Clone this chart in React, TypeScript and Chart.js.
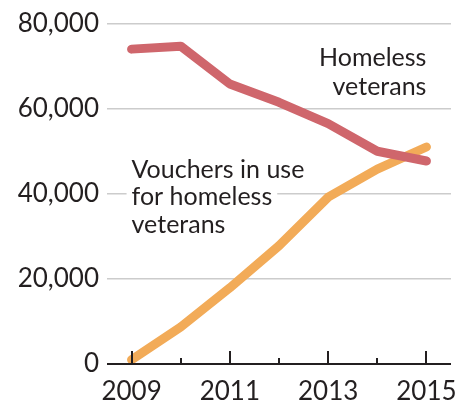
import React, { useEffect, useRef } from "react";
import { Chart, registerables } from "chart.js";

Chart.register(...registerables);

const years = [2009, 2010, 2011, 2012, 2013, 2014, 2015];
const homelessVeterans = [74000, 74700, 65800, 61500, 56500, 50000, 47700];
const vouchersInUse = [1000, 8700, 17900, 27800, 39200, 45800, 51000];
const yTicks = [0, 20000, 40000, 60000, 80000];
const homelessLabel = ["Homeless", "veterans"];
const vouchersLabel = ["Vouchers in use", "for homeless", "veterans"];

const FONT = "Lato, 'Liberation Sans', sans-serif";
const TEXT = "#231f20";
const RED = "#cf666c";
const ORANGE = "#f2ab58";

const overlayPlugin = {
  id: "overlay",
  afterDatasetsDraw(chart: any) {
    const { ctx, chartArea } = chart;
    const xs = chart.scales.x;
    const ys = chart.scales.y;
    ctx.save();
    // baseline axis
    const y0 = ys.getPixelForValue(0);
    ctx.strokeStyle = "#231f20";
    ctx.lineWidth = 2;
    ctx.beginPath();
    ctx.moveTo(chartArea.left, y0);
    ctx.lineTo(chartArea.right, y0);
    ctx.stroke();
    // tick marks
    years.forEach((yr) => {
      const px = Math.round(xs.getPixelForValue(yr));
      const len = yr % 2 === 1 ? 13 : 6;
      ctx.beginPath();
      ctx.moveTo(px, y0);
      ctx.lineTo(px, y0 - len);
      ctx.stroke();
    });
    // labels
    ctx.font = `25px ${FONT}`;
    ctx.textBaseline = "alphabetic";
    const lh = 29;
    // Homeless veterans (right aligned)
    ctx.textAlign = "right";
    const hx = xs.getPixelForValue(2015);
    const hy = ys.getPixelForValue(70000);
    homelessLabel.forEach((t, i) => {
      ctx.fillStyle = TEXT;
      ctx.fillText(t, hx, hy + i * lh);
    });
    // Vouchers label (left aligned with white background)
    ctx.textAlign = "left";
    const vx = xs.getPixelForValue(2009);
    const vy = ys.getPixelForValue(43800);
    vouchersLabel.forEach((t, i) => {
      const w = ctx.measureText(t).width;
      ctx.fillStyle = "#ffffff";
      ctx.fillRect(vx - 5, vy + i * 27.5 - 21, w + 10, 28);
    });
    vouchersLabel.forEach((t, i) => {
      ctx.fillStyle = TEXT;
      ctx.fillText(t, vx, vy + i * 27.5);
    });
    ctx.restore();
  },
};

export default function App() {
  const ref = useRef<HTMLCanvasElement>(null);
  useEffect(() => {
    document.body.style.margin = "0";
    const chart = new Chart(ref.current!, {
      type: "line",
      data: {
        datasets: [
          {
            label: "Homeless veterans",
            data: years.map((x, i) => ({ x, y: homelessVeterans[i] })),
            borderColor: RED,
            borderWidth: 9,
            pointRadius: 0,
            borderJoinStyle: "round",
            borderCapStyle: "round",
            tension: 0,
          },
          {
            label: "Vouchers in use for homeless veterans",
            data: years.map((x, i) => ({ x, y: vouchersInUse[i] })),
            borderColor: ORANGE,
            borderWidth: 9,
            pointRadius: 0,
            borderJoinStyle: "round",
            borderCapStyle: "round",
            tension: 0,
          },
        ],
      },
      options: {
        animation: false,
        responsive: false,
        layout: { padding: { top: 19, right: 16, left: 0, bottom: 0 } },
        plugins: { legend: { display: false }, tooltip: { enabled: false } },
        scales: {
          x: {
            type: "linear",
            min: 2008.5,
            max: 2015.5,
            afterBuildTicks: (s: any) => {
              s.ticks = years.map((v) => ({ value: v }));
            },
            afterFit: (s: any) => {
              s.height = 36;
            },
            grid: { display: false },
            border: { display: false },
            ticks: {
              autoSkip: false,
              maxRotation: 0,
              padding: 4,
              color: TEXT,
              font: { family: FONT, size: 26 },
              callback: (v: any) => (Number(v) % 2 === 1 ? String(v) : ""),
            },
          },
          y: {
            min: 0,
            max: 80000,
            afterBuildTicks: (s: any) => {
              s.ticks = yTicks.map((v) => ({ value: v }));
            },
            afterFit: (s: any) => {
              s.width = 107;
            },
            border: { display: false },
            grid: {
              drawTicks: false,
              color: (c: any) => (c.tick && c.tick.value === 0 ? "rgba(0,0,0,0)" : "#cccccc"),
              lineWidth: 1.5,
            },
            ticks: {
              padding: 8,
              color: TEXT,
              font: { family: FONT, size: 26 },
              callback: (v: any) => Number(v).toLocaleString("en-US"),
            },
          },
        },
      },
      plugins: [overlayPlugin],
    });
    return () => chart.destroy();
  }, []);
  return <canvas ref={ref} width={467} height={400} style={{ display: "block" }} />;
}
